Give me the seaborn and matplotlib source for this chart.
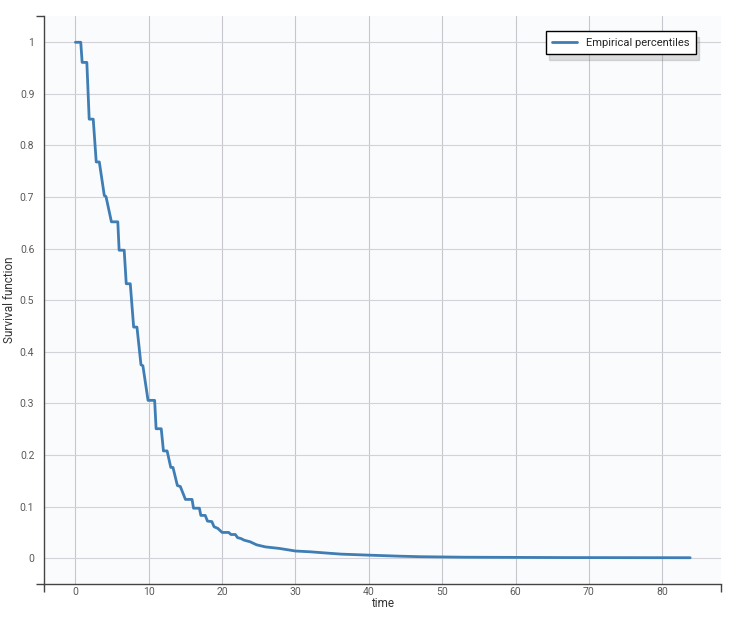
import numpy as np
import pandas as pd
import matplotlib
matplotlib.use("Agg")
import matplotlib.pyplot as plt
import seaborn as sns
from matplotlib.ticker import FixedLocator, FuncFormatter

time = [0, 0.73, 0.92, 1.56, 1.88, 2.43, 2.84, 3.26, 3.94, 4.17,
        4.91, 5.78, 5.96, 6.65, 6.93, 7.48, 7.94, 8.39, 8.94, 9.2,
        9.9, 10.8, 11.0, 11.7, 12.0, 12.5, 13.0, 13.3, 13.9, 14.3,
        15.0, 15.9, 16.1, 16.9, 17.1, 17.7, 18.0, 18.6, 18.9, 19.4,
        20.0, 20.9, 21.2, 21.8, 22.1, 22.6, 23.0, 23.8, 24.7, 25.9,
        27.8, 30.0, 32.0, 34.3, 36.2, 40.0, 44.2, 47.0, 53.0, 66.8,
        83.8]
survival = [1.0, 1.0, 0.961, 0.961, 0.851, 0.851, 0.768, 0.768, 0.703, 0.701,
            0.652, 0.652, 0.597, 0.597, 0.532, 0.532, 0.448, 0.448, 0.375, 0.373,
            0.306, 0.306, 0.251, 0.251, 0.208, 0.208, 0.176, 0.176, 0.141, 0.139,
            0.114, 0.114, 0.097, 0.097, 0.083, 0.083, 0.072, 0.071, 0.061, 0.058,
            0.050, 0.050, 0.046, 0.046, 0.040, 0.038, 0.035, 0.032, 0.026, 0.022,
            0.019, 0.014, 0.0125, 0.010, 0.008, 0.006, 0.004, 0.003, 0.002, 0.0013,
            0.001]
x_ticks = [0, 10, 20, 30, 40, 50, 60, 70, 80]
y_ticks = [0, 0.1, 0.2, 0.3, 0.4, 0.5, 0.6, 0.7, 0.8, 0.9, 1]
series_label = "Empirical percentiles"

df = pd.DataFrame({"time": time, "survival": survival})

sns.set_theme(style="white")
plt.rcParams["font.family"] = ["Roboto", "DejaVu Sans"]

fig = plt.figure(figsize=(7.37, 6.18), dpi=100)
fig.patch.set_facecolor("white")
ax = fig.add_axes([44 / 737, 1 - 584.3 / 618, (721 - 44) / 737, (584.3 - 15.7) / 618])
ax.set_facecolor("#fafbfd")

sns.lineplot(data=df, x="time", y="survival", ax=ax, estimator=None, sort=False,
             color="#3f7db5", linewidth=2, label=series_label)

xmin, xmax = -4.28, 88.0
ymin, ymax = -0.0505, 1.0515
ax.set_xlim(xmin, xmax)
ax.set_ylim(ymin, ymax)

ax.xaxis.set_major_locator(FixedLocator(x_ticks))
ax.yaxis.set_major_locator(FixedLocator(y_ticks))
ax.yaxis.set_major_formatter(FuncFormatter(lambda v, p: f"{v:g}"))
ax.xaxis.set_major_formatter(FuncFormatter(lambda v, p: f"{v:g}"))
ax.xaxis.set_minor_locator(FixedLocator([xmin, xmax]))
ax.yaxis.set_minor_locator(FixedLocator([ymin, ymax]))

ax.xaxis.grid(True, which="major", color="#c6c6cc", linewidth=0.8)
ax.yaxis.grid(True, which="major", color="#d2d2d8", linewidth=0.8)
ax.tick_params(bottom=True, left=True, which="both")
ax.tick_params(which="major", length=0, labelsize=7.5, labelcolor="#5a5a5a")
ax.tick_params(axis="x", which="major", pad=2)
ax.tick_params(axis="y", which="major", pad=7)
ax.tick_params(which="minor", length=6, width=1, color="#444444", direction="out")

for s in ["top", "right"]:
    ax.spines[s].set_visible(False)
for s in ["left", "bottom"]:
    ax.spines[s].set_color("#444444")
    ax.spines[s].set_linewidth(1)

ax.set_xlabel("time", fontsize=8.5, color="#333333", labelpad=0)
ax.set_ylabel("Survival function", fontsize=8.5, color="#333333")
ax.yaxis.set_label_coords(-0.042, 0.5)

leg = ax.legend(loc="upper right", bbox_to_anchor=(0.963, 0.973), borderaxespad=0,
                frameon=True, fancybox=False,
                shadow={"ox": 2, "oy": -4, "color": "0.5", "alpha": 0.25},
                fontsize=8, handlelength=2.2, borderpad=0.6)
leg.get_frame().set_edgecolor("black")
leg.get_frame().set_linewidth(1)
leg.get_frame().set_facecolor("white")

fig.savefig("out.png", dpi=100)
